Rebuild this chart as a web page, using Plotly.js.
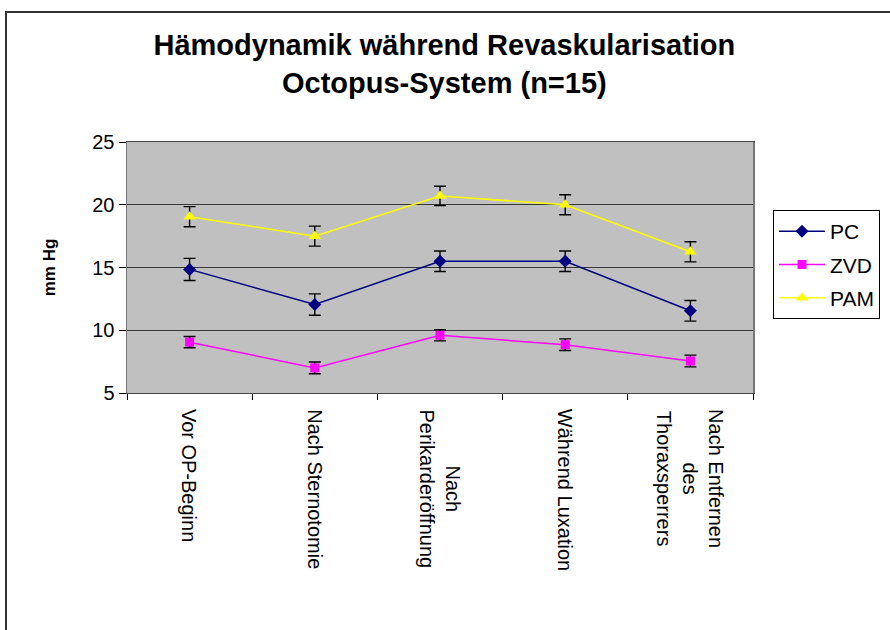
<!DOCTYPE html>
<html>
<head>
<meta charset="utf-8">
<script src="https://cdn.plot.ly/plotly-3.0.1.min.js"></script>
<style>
html,body{margin:0;padding:0;background:#fff;}
#chart{width:890px;height:630px;}
</style>
</head>
<body>
<div id="chart"></div>
<script>
var categories = ['Vor OP-Beginn', 'Nach Sternotomie', 'Nach<br>Perikarderöffnung', 'Während Luxation', 'Nach Entfernen<br>des<br>Thoraxsperrers'];
var pcValues  = [14.85, 12.05, 15.5, 15.5, 11.55];
var pcErr     = [0.88, 0.85, 0.82, 0.82, 0.82];
var zvdValues = [9.05, 7.0, 9.6, 8.85, 7.55];
var zvdErr    = [0.45, 0.47, 0.45, 0.46, 0.47];
var pamValues = [19.05, 17.5, 20.7, 20.0, 16.25];
var pamErr    = [0.8, 0.8, 0.77, 0.8, 0.8];
var yTicks    = [5, 10, 15, 20, 25];

var F = 'Liberation Sans, Arial, sans-serif';
function errSpec(arr){
  return {type:'data', array:arr, visible:true, color:'#000', thickness:1.4, width:6};
}
var traces = [
  {x:categories, y:pcValues, name:'PC', type:'scatter', mode:'lines+markers',
   line:{color:'#000080', width:1.5}, marker:{symbol:'diamond', size:10, color:'#000080'},
   error_y:errSpec(pcErr), legendgroup:'a'},
  {x:categories, y:zvdValues, name:'ZVD', type:'scatter', mode:'lines+markers',
   line:{color:'#FF00FF', width:1.5}, marker:{symbol:'square', size:9, color:'#FF00FF'},
   error_y:errSpec(zvdErr), legendgroup:'b'},
  {x:categories, y:pamValues, name:'PAM', type:'scatter', mode:'lines+markers',
   line:{color:'#FFFF00', width:1.5}, marker:{symbol:'triangle-up', size:11, color:'#FFFF00'},
   error_y:errSpec(pamErr), legendgroup:'c'}
];

var annotations = categories.map(function(c){
  return {x:c, xref:'x', y:0, yref:'paper', yanchor:'top', xanchor:'center', yshift:-14,
          text:c, showarrow:false, textangle:90, align:'center',
          font:{family:F, size:20, color:'#000'}};
});
annotations.push({text:'<b>t</b>', x:0.5, xref:'paper', y:0, yref:'container', yanchor:'bottom', yshift:6,
  xshift:-3, showarrow:false, font:{family:F, size:18, color:'#000'}});

var layout = {
  width:890, height:630,
  margin:{l:127, r:137, t:142, b:237, autoexpand:false},
  paper_bgcolor:'#fff', plot_bgcolor:'#C0C0C0',
  font:{family:F, color:'#000'},
  showlegend:true,
  title:{text:'<b>Hämodynamik während Revaskularisation<br>Octopus-System (n=15)</b>',
         x:0.507, xref:'paper', xanchor:'center', y:1-55/630, yref:'container', yanchor:'top',
         font:{family:F, size:29, color:'#000'}},
  xaxis:{type:'category', range:[-0.5,4.5], tickson:'boundaries', ticks:'outside', ticklen:6,
         tickcolor:'#000', showticklabels:false, showgrid:false, zeroline:false,
         showline:true, linecolor:'#444', linewidth:1, mirror:true, fixedrange:true},
  yaxis:{range:[5,25], tickvals:yTicks, ticktext:yTicks.map(String), ticks:'outside', ticklen:7,
         tickcolor:'#000', showgrid:true, gridcolor:'#383838', gridwidth:1, zeroline:false,
         showline:true, linecolor:'#777', linewidth:1.5, mirror:true,
         tickfont:{family:F, size:20, color:'#000'},
         title:{text:'<b>mm Hg</b>', standoff:32, font:{family:F, size:17, color:'#000'}}},
  legend:{x:(773-127)/626, xanchor:'left', y:1-(210-142)/251, yanchor:'top',
          bgcolor:'#fff', bordercolor:'#000', borderwidth:1,
          font:{family:F, size:21, color:'#000'}, tracegroupgap:3, traceorder:'grouped',
          itemwidth:46},
  annotations:annotations,
  shapes:[{type:'rect', xref:'paper', yref:'paper',
           x0:(6-127)/626, x1:(905-127)/626, y0:-(650-393)/251, y1:1+(142-12)/251,
           line:{color:'#333', width:2}, fillcolor:'rgba(0,0,0,0)', layer:'below'}]
};
Plotly.newPlot('chart', traces, layout, {staticPlot:true, displayModeBar:false});
</script>
</body>
</html>
